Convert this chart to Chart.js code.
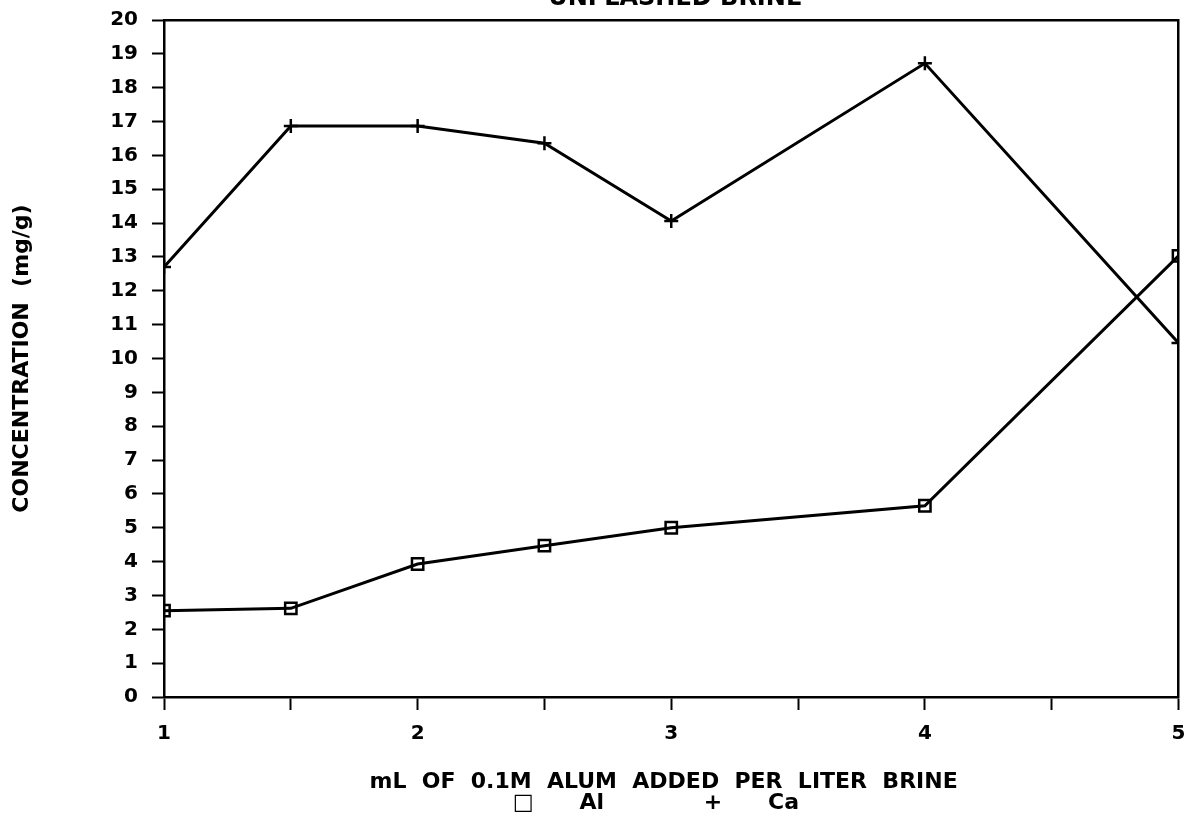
<!DOCTYPE html>
<html>
<head>
<meta charset="utf-8">
<title>Unflashed brine</title>
<script src="https://cdn.jsdelivr.net/npm/chart.js@4/dist/chart.umd.min.js"></script>
<style>
  html, body { margin: 0; padding: 0; background: #fff; overflow: hidden; }
  #wrap { width: 1189px; height: 817px; }
</style>
</head>
<body>
<div id="wrap"><canvas id="brineChart" width="1189" height="817"></canvas></div>
<script>
// data
const alumAdded = [1, 1.5, 2, 2.5, 3, 4, 5];
const alValues = [2.55, 2.62, 3.93, 4.47, 5.0, 5.65, 13.03];
const caValues = [12.7, 16.87, 16.87, 16.36, 14.06, 18.72, 10.46];
const yTicks = [0, 1, 2, 3, 4, 5, 6, 7, 8, 9, 10, 11, 12, 13, 14, 15, 16, 17, 18, 19, 20];
const xTickLabels = ['1', '2', '3', '4', '5'];

const FONT = "'DejaVu Sans', sans-serif";
const ink = '#000';

function toPoints(xs, ys) {
  return xs.map((x, i) => ({ x: x, y: ys[i] }));
}

// title sits at the very top edge, centred over the plot
const topTitle = {
  id: 'topTitle',
  afterDraw(chart) {
    const { ctx, chartArea } = chart;
    ctx.save();
    ctx.fillStyle = ink;
    ctx.font = 'bold 24px ' + FONT;
    ctx.textAlign = 'center';
    ctx.textBaseline = 'alphabetic';
    ctx.fillText('UNFLASHED BRINE', (chartArea.left + chartArea.right) / 2 + 4, 5);
    ctx.restore();
  }
};

const ctx = document.getElementById('brineChart');
new Chart(ctx, {
  type: 'line',
  data: {
    datasets: [
      {
        label: 'Al',
        data: toPoints(alumAdded, alValues),
        borderColor: ink,
        borderWidth: 3,
        pointStyle: 'rect',
        pointRadius: 8,
        pointBorderWidth: 2.5,
        pointBorderColor: ink,
        pointBackgroundColor: 'rgba(0,0,0,0)',
        tension: 0
      },
      {
        label: 'Ca',
        data: toPoints(alumAdded, caValues),
        borderColor: ink,
        borderWidth: 3,
        pointStyle: 'cross',
        pointRadius: 7,
        pointBorderWidth: 2.5,
        pointBorderColor: ink,
        tension: 0
      }
    ]
  },
  options: {
    responsive: false,
    animation: false,
    layout: { padding: { top: 20, right: 8, left: 0, bottom: 0 } },
    plugins: {
      legend: { display: false },
      tooltip: { enabled: false }
    },
    scales: {
      x: {
        type: 'linear',
        position: 'bottom',
        min: 1,
        max: 5,
        afterFit: (scale) => {
          scale.height = 120;
          scale.paddingLeft = 0;
          scale.paddingRight = 0;
        },
        ticks: {
          stepSize: 0.5,
          autoSkip: false,
          maxRotation: 0,
          padding: 12,
          color: ink,
          font: { family: FONT, size: 20, weight: 'bold' },
          callback: (v) => (Number.isInteger(v) && xTickLabels.includes(String(v)) ? String(v) : '')
        },
        grid: { drawOnChartArea: false, drawTicks: true, tickLength: 13, tickWidth: 2, color: ink },
        border: { display: true, color: ink, width: 2.5 },
        title: {
          display: true,
          text: ['mL  OF  0.1M  ALUM  ADDED  PER  LITER  BRINE  ', '\u25A1      Al             +      Ca    '],
          color: ink,
          font: { family: FONT, size: 22, weight: 'bold', lineHeight: 0.95 },
          padding: { top: 0, bottom: 3 }
        }
      },
      y: {
        type: 'linear',
        position: 'left',
        min: 0,
        max: 20,
        afterFit: (scale) => {
          scale.width = 164;
          scale.paddingTop = 0;
          scale.paddingBottom = 0;
        },
        afterBuildTicks: (scale) => { scale.ticks = yTicks.map((v) => ({ value: v })); },
        ticks: {
          padding: 14,
          color: ink,
          font: { family: FONT, size: 20, weight: 'bold' }
        },
        grid: { drawOnChartArea: false, drawTicks: true, tickLength: 12, tickWidth: 2, color: ink },
        border: { display: true, color: ink, width: 2.5 },
        title: {
          display: true,
          text: 'CONCENTRATION  (mg/g)',
          color: ink,
          font: { family: FONT, size: 22, weight: 'bold' },
          padding: { top: 9, bottom: 0 }
        }
      },
      xTop: {
        type: 'linear',
        position: 'top',
        min: 1,
        max: 5,
        afterFit: (scale) => { scale.height = 0; },
        ticks: { display: false },
        grid: { display: false },
        border: { display: true, color: ink, width: 2.5 }
      },
      yRight: {
        type: 'linear',
        position: 'right',
        min: 0,
        max: 20,
        afterFit: (scale) => { scale.width = 0; },
        ticks: { display: false },
        grid: { display: false },
        border: { display: true, color: ink, width: 2.5 }
      }
    }
  },
  plugins: [topTitle]
});
</script>
</body>
</html>
